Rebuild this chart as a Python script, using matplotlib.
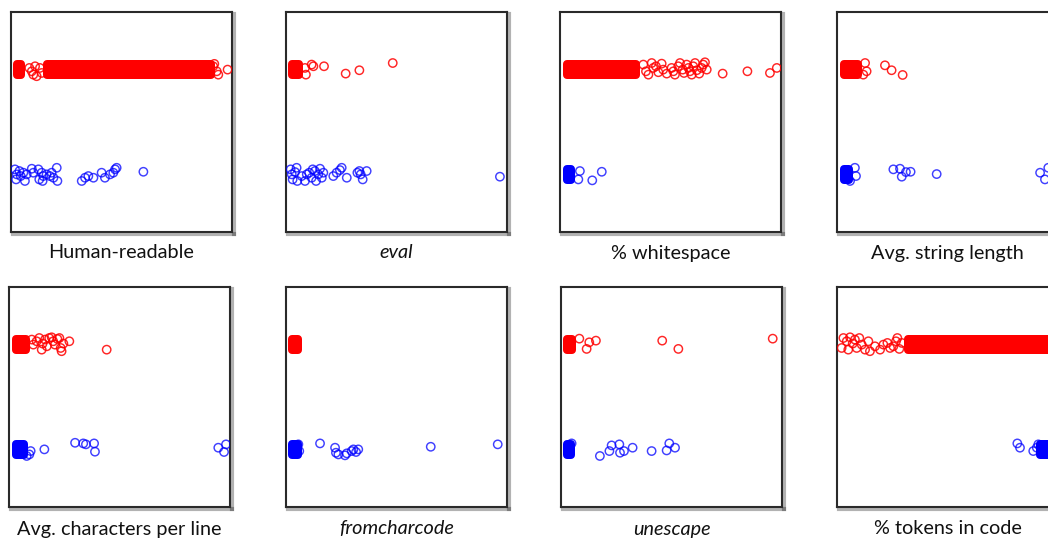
import matplotlib
matplotlib.use("Agg")
import matplotlib.pyplot as plt
import matplotlib.patheffects as pe
from matplotlib.patches import Rectangle

labels = ["Human-readable", "eval", "% whitespace", "Avg. string length",
          "Avg. characters per line", "fromcharcode", "unescape", "% tokens in code"]
label_italic = [False, True, False, False, False, True, True, False]

# ---- Panel 1: Human-readable ----
p1_red_core = [(1.0, 6.3), (14.6, 92.5)]
p1_red_x = [8.3, 9.4, 10.1, 10.9, 11.6, 13.1, 13.9, 91.5, 93.1, 93.8, 92.0, 98.0]
p1_red_j = [.016, -.016, -.048, .032, -.063, .016, -.032, .032, -.016, -.048, .055, 0.0]
p1_blue_core = []
p1_blue_x = [1.8, 2.6, 2.3, 3.8, 4.4, 5.6, 6.3, 7.1, 9.4, 10.1, 12.4, 12.8, 13.9, 14.3, 14.6, 16.1,
             17.6, 18.4, 19.2, 20.7, 21.0, 32.0, 33.5, 35.0, 37.3, 41.0, 42.5, 44.8, 46.3, 47.1, 47.8, 59.9]
p1_blue_j = [.048, 0, -.048, .032, -.016, .016, -.063, 0, .054, .016, .048, -.048, .016, -.063, -.016, 0,
             -.016, .016, -.032, .063, -.063, -.063, -.032, -.016, -.032, .016, -.032, 0, .016, .048, .063, .025]

# ---- Panel 2: eval ----
p2_red_core = [(1.0, 7.8)]
p2_red_x = [8.6, 9.0, 11.6, 12.4, 17.2, 27.0, 33.2, 48.3]
p2_red_j = [.016, -.048, .048, .032, .032, -.038, -.006, .063]
p2_blue_core = []
p2_blue_x = [2.1, 2.6, 3.0, 4.1, 4.8, 5.1, 7.1, 8.6, 9.4, 10.5, 11.6, 12.1, 13.1, 13.6, 14.6, 15.4,
             16.2, 16.9, 21.4, 22.9, 24.4, 25.2, 27.5, 32.3, 33.2, 33.8, 34.7, 36.5, 96.8]
p2_blue_j = [.048, 0, -.048, .022, .063, -.063, -.016, -.063, 0, .016, -.032, .048, .032, -.063, 0, .054,
             -.032, .016, -.016, .016, .041, .063, -.032, .016, .032, 0, -.048, .032, -.022]

# ---- Panel 3: % whitespace ----
p3_red_core = [(1.2, 36.2)]
p3_red_x = [37.7, 38.9, 40.0, 41.5, 42.2, 43.4, 44.5, 46.0, 46.7, 48.3, 50.5, 51.3, 52.0, 53.5, 54.3,
            55.5, 56.1, 57.3, 58.1, 58.8, 59.6, 60.3, 61.1, 61.9, 63.0, 64.1, 64.8, 65.6, 66.4,
            73.6, 84.8, 95.0, 98.1]
p3_red_j = [.048, -.016, -.048, .063, .016, .032, -.025, .057, 0, -.038, .016, -.016, -.048, .032, .063,
            0, -.032, .048, .016, -.016, -.048, .032, .063, -.006, -.038, .016, .048, .07, 0,
            -.038, -.016, -.032, .016]
p3_blue_core = [(1.2, 6.8)]
p3_blue_x = [8.3, 9.0, 14.6, 18.9]
p3_blue_j = [-.048, .032, -.057, .025]

# ---- Panel 4: Avg. string length ----
p4_red_core = [(1.4, 11.2)]
p4_red_x = [12.7, 13.4, 11.9, 21.7, 24.7, 29.7]
p4_red_j = [.063, -.016, -.048, .041, -.006, -.051]
p4_blue_core = [(1.4, 7.4)]
p4_blue_x = [8.1, 8.6, 5.9, 25.5, 28.5, 29.3, 31.2, 33.3, 45.1, 91.9, 94.1, 95.6]
p4_blue_j = [.063, -.016, -.063, .048, .054, -.022, .022, .025, .003, .016, -.048, .063]

# ---- Panel 5: Avg. characters per line ----
p5_red_core = [(1.2, 9.5)]
p5_red_x = [10.3, 11.0, 12.5, 13.7, 14.8, 15.2, 16.3, 17.1, 18.2, 19.3, 20.0, 20.8, 21.9, 22.8,
            23.4, 23.8, 24.6, 27.3, 44.2]
p5_red_j = [.048, 0, .032, .063, -.048, .010, .048, -.016, .063, .07, .032, 0, .054, .063,
            -.032, -.063, .010, .032, -.048]
p5_blue_core = [(1.2, 8.7)]
p5_blue_x = [9.2, 9.8, 8.0, 16.0, 29.9, 33.6, 34.8, 38.5, 38.9, 94.7, 97.3, 98.2]
p5_blue_j = [-.048, -.016, -.063, 0, .063, .057, .048, .057, -.022, .016, -.025, .048]

# ---- Panel 6: fromcharcode ----
p6_red_core = [(1.0, 7.4)]
p6_red_x = []
p6_red_j = []
p6_blue_core = [(1.0, 7.2)]
p6_blue_x = [5.6, 6.0, 15.4, 22.2, 22.6, 23.7, 26.7, 27.5, 29.7, 30.5, 31.7, 32.7, 65.5, 95.8]
p6_blue_j = [.048, -.016, .057, .016, -.032, -.048, -.057, -.038, -.016, 0, -.025, 0, .025, .048]

# ---- Panel 7: unescape ----
p7_red_core = [(0.8, 6.8)]
p7_red_x = [8.3, 11.6, 12.8, 15.8, 45.8, 53.1, 95.8]
p7_red_j = [.057, -.041, .022, .038, .038, -.041, .057]
p7_blue_core = [(0.8, 6.3)]
p7_blue_x = [4.8, 17.6, 21.9, 22.9, 26.4, 26.7, 28.5, 32.4, 41.0, 47.8, 49.0, 51.6]
p7_blue_j = [.057, -.063, -.016, .038, .048, -.032, -.016, .016, -.016, -.010, .057, .016]

# ---- Panel 8: % tokens in code ----
p8_red_core = [(30.3, 99.5)]
p8_red_x = [2.1, 2.9, 4.4, 5.1, 5.9, 7.1, 8.1, 8.9, 10.1, 11.2, 12.7, 14.2, 14.9, 17.2, 19.5, 21.0,
            22.8, 24.0, 25.5, 26.7, 27.3, 28.2, 29.3]
p8_red_j = [-.032, .063, .032, -.048, .07, .010, .048, -.032, .063, 0, -.048, .032, -.063, -.016,
            -.048, 0, .016, -.032, -.016, .032, .063, -.041, .016]
p8_blue_core = [(90.0, 99.0)]
p8_blue_x = [81.6, 82.8, 88.8, 90.4, 91.1, 92.6]
p8_blue_j = [.057, .016, -.016, .016, .048, 0]

panels = [
    (p1_red_core, p1_red_x, p1_red_j, p1_blue_core, p1_blue_x, p1_blue_j),
    (p2_red_core, p2_red_x, p2_red_j, p2_blue_core, p2_blue_x, p2_blue_j),
    (p3_red_core, p3_red_x, p3_red_j, p3_blue_core, p3_blue_x, p3_blue_j),
    (p4_red_core, p4_red_x, p4_red_j, p4_blue_core, p4_blue_x, p4_blue_j),
    (p5_red_core, p5_red_x, p5_red_j, p5_blue_core, p5_blue_x, p5_blue_j),
    (p6_red_core, p6_red_x, p6_red_j, p6_blue_core, p6_blue_x, p6_blue_j),
    (p7_red_core, p7_red_x, p7_red_j, p7_blue_core, p7_blue_x, p7_blue_j),
    (p8_red_core, p8_red_x, p8_red_j, p8_blue_core, p8_blue_x, p8_blue_j),
]

W, H = 1048, 540
fig = plt.figure(figsize=(W / 100, H / 100), dpi=100)
fig.patch.set_facecolor("white")

lefts = [[11, 286, 560, 837], [9, 286, 561, 837]]
tops = [12, 287]
pw, ph = 221, 220
label_y = [253, 529]
XLIM = (0, 100)
YLIM = (-0.55, 1.55)

RED = "#ff0000"
BLUE = "#0000ff"
# band geometry (in pixels), converted to data units
band_half_px = 9.5
corner_px = 4.0
ux = (XLIM[1] - XLIM[0]) / pw
uy = (YLIM[1] - YLIM[0]) / ph


def draw_core(ax, a, b, level, color):
    # rounded block: inset rectangle + thick round-joined edge
    x0 = a + corner_px * ux
    w = (b - a) - 2 * corner_px * ux
    hh = (band_half_px - corner_px) * uy
    ax.add_patch(Rectangle((x0, level - hh), max(w, 0.01), 2 * hh, facecolor=color,
                           edgecolor=color, linewidth=2 * corner_px * 0.72,
                           joinstyle="round", zorder=2))


for i, (rc, rx, rj, bc, bx, bj) in enumerate(panels):
    r, c = divmod(i, 4)
    lp = lefts[r][c]
    tp = tops[r]
    ax = fig.add_axes([lp / W, 1 - (tp + ph) / H, pw / W, ph / H])
    ax.set_xlim(*XLIM)
    ax.set_ylim(*YLIM)
    ax.set_xticks([])
    ax.set_yticks([])
    for (a, b) in rc:
        draw_core(ax, a, b, 1, RED)
    for (a, b) in bc:
        draw_core(ax, a, b, 0, BLUE)
    if rx:
        ax.scatter(rx, [1 + j for j in rj], s=36, facecolors="none", edgecolors=RED,
                   linewidths=1.05, alpha=0.85, zorder=3)
    if bx:
        ax.scatter(bx, [0 + j for j in bj], s=36, facecolors="none", edgecolors=BLUE,
                   linewidths=1.05, alpha=0.75, zorder=3)
    for name, sp in ax.spines.items():
        sp.set_color("#2a2a2a")
        sp.set_linewidth(1.5)
        if name in ("right", "bottom"):
            sp.set_path_effects([pe.SimpleLineShadow(offset=(1.5, -1.5), shadow_color="k",
                                                     alpha=0.3, linewidth=3),
                                 pe.Normal()])
    fig.text((lp + pw / 2) / W, 1 - label_y[r] / H, labels[i],
             ha="center", va="center", fontsize=14.3, family="Lato",
             style="italic" if label_italic[i] else "normal", color="#111111")

fig.savefig("out.png", dpi=100, facecolor="white")
